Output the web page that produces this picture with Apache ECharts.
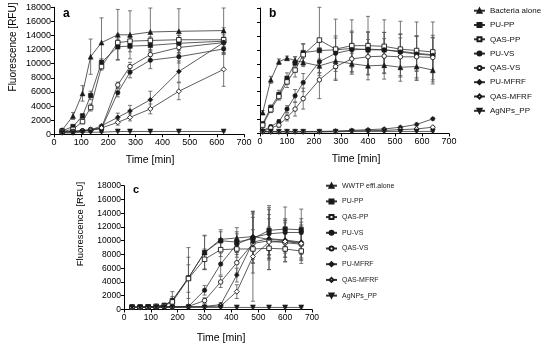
<!DOCTYPE html>
<html>
<head>
<meta charset="utf-8">
<script src="https://cdn.jsdelivr.net/npm/echarts@6/dist/echarts.min.js"></script>
<style>
  html, body { margin: 0; padding: 0; background: #fff; }
  #chart { width: 554px; height: 348px; }
</style>
</head>
<body>
<div id="chart"></div>
<script>
// ---- series names ----
const namesAB = ['Bacteria alone', 'PU-PP', 'QAS-PP', 'PU-VS', 'QAS-VS', 'PU-MFRF', 'QAS-MFRF', 'AgNPs_PP'];
const namesC  = ['WWTP effl.alone', 'PU-PP', 'QAS-PP', 'PU-VS', 'QAS-VS', 'PU-MFRF', 'QAS-MFRF', 'AgNPs_PP'];

// ---- axis ticks ----
const timeTicks = [0, 100, 200, 300, 400, 500, 600, 700];
const rfuTicks = [0, 2000, 4000, 6000, 8000, 10000, 12000, 14000, 16000, 18000];

// ---- panel a: sampling times [min] ----
const timeA = [30, 70, 105, 135, 175, 235, 280, 355, 460, 625];
const aBacteria    = [600, 2600, 5800, 11000, 13000, 14100, 14100, 14500, 14600, 14700];
const aBacteriaSd  = [150, 500, 1100, 2500, 3500, 3600, 3400, 3400, 3200, 3200];
const aPUPP        = [500, 1100, 2600, 5500, 10200, 12400, 12500, 12600, 12900, 13200];
const aPUPPSd      = [100, 200, 300, 600, 500, 1800, 800, 700, 700, 1900];
const aQASPP       = [400, 700, 1800, 3800, 9600, 13000, 13200, 13300, 13400, 13400];
const aQASPPSd     = [100, 200, 300, 500, 500, 500, 500, 500, 600, 700];
const aPUVS        = [300, 400, 500, 600, 800, 5900, 8800, 10500, 11000, 12100];
const aPUVSSd      = [100, 100, 100, 100, 200, 600, 800, 1200, 900, 700];
const aQASVS       = [300, 400, 500, 700, 900, 7000, 9600, 11300, 12300, 13000];
const aQASVSSd     = [100, 100, 100, 100, 200, 400, 600, 700, 700, 800];
const aPUMFRF      = [300, 400, 500, 600, 1200, 2400, 3300, 4900, 8900, 13000];
const aPUMFRFSd    = [100, 100, 100, 100, 200, 600, 800, 1200, 1500, 600];
const aQASMFRF     = [300, 350, 450, 550, 900, 1700, 2400, 3600, 6100, 9200];
const aQASMFRFSd   = [100, 100, 100, 100, 200, 400, 500, 700, 1200, 2400];
const aAgNPs       = [200, 200, 300, 300, 300, 400, 400, 400, 400, 400];
const aAgNPsSd     = [50, 50, 50, 50, 50, 50, 50, 50, 50, 50];

// ---- panel b ----
const timeB = [10, 40, 70, 100, 130, 160, 220, 280, 340, 400, 460, 520, 580, 640];
const bBacteria    = [3000, 7700, 10300, 10800, 10500, 10200, 9700, 10400, 10000, 9700, 9800, 9500, 9600, 9100];
const bBacteriaSd  = [300, 500, 400, 300, 500, 600, 1000, 1500, 1500, 2000, 2000, 2000, 2000, 2000];
const bPUPP        = [1400, 3700, 5600, 7900, 10100, 11600, 11900, 12000, 12200, 12000, 12000, 11800, 11500, 11300];
const bPUPPSd      = [200, 400, 600, 800, 900, 1300, 1600, 2000, 2500, 2500, 2500, 2500, 2500, 2500];
const bQASPP       = [1200, 3400, 5300, 7400, 9100, 11300, 13400, 12100, 12600, 12600, 12500, 12100, 11900, 11700];
const bQASPPSd     = [200, 400, 500, 800, 1000, 1500, 4700, 4300, 3700, 4200, 3800, 4000, 4100, 4300];
const bPUVS        = [400, 1000, 1700, 3500, 5400, 7300, 10300, 11500, 12000, 12100, 12000, 11700, 11400, 11200];
const bPUVSSd      = [100, 200, 300, 500, 900, 1300, 2000, 2200, 2500, 2500, 2500, 2500, 2500, 2500];
const bQASVS       = [300, 800, 1200, 2300, 3500, 5000, 7700, 9600, 10700, 11000, 11100, 11000, 11000, 10900];
const bQASVSSd     = [100, 200, 300, 500, 1000, 1500, 2700, 2000, 2000, 2500, 2500, 2700, 3000, 3200];
const bPUMFRF      = [300, 300, 300, 300, 300, 300, 300, 350, 450, 550, 650, 900, 1300, 2100];
const bPUMFRFSd    = [50, 50, 50, 50, 50, 50, 50, 50, 100, 100, 150, 150, 200, 200];
const bQASMFRF     = [250, 250, 250, 250, 250, 250, 250, 300, 350, 400, 450, 550, 650, 900];
const bQASMFRFSd   = [50, 50, 50, 50, 50, 50, 50, 50, 50, 100, 100, 100, 150, 150];
const bAgNPs       = [250, 250, 250, 250, 250, 250, 250, 250, 300, 300, 300, 300, 300, 300];
const bAgNPsSd     = [50, 50, 50, 50, 50, 50, 50, 50, 50, 50, 50, 50, 50, 50];

// ---- panel c ----
const timeC = [30, 60, 90, 120, 150, 180, 240, 300, 360, 420, 480, 540, 600, 660];
const cWWTP        = [350, 350, 400, 450, 600, 1300, 4600, 8300, 10200, 10400, 10600, 10200, 10000, 9700];
const cWWTPSd      = [100, 100, 100, 150, 200, 600, 3000, 2400, 1400, 1500, 2800, 3000, 3000, 3000];
const cPUPP        = [350, 350, 400, 450, 600, 1300, 4600, 8300, 10000, 9800, 10300, 11500, 11700, 11600];
const cPUPPSd      = [100, 100, 100, 150, 300, 1300, 4400, 2500, 1300, 1500, 3600, 3600, 3200, 3000];
const cQASPP       = [350, 350, 400, 450, 550, 1100, 4500, 7300, 8700, 8800, 8800, 8900, 8800, 8500];
const cQASPPSd     = [100, 100, 100, 100, 200, 500, 2000, 1500, 1000, 1200, 1500, 1500, 1200, 1000];
const cPUVS        = [300, 300, 350, 350, 400, 400, 450, 2800, 6600, 9500, 10500, 11000, 11200, 11200];
const cPUVSSd      = [50, 50, 50, 50, 100, 100, 150, 700, 1600, 1500, 3700, 3500, 2000, 2000];
const cQASVS       = [300, 300, 350, 350, 400, 400, 450, 1300, 4000, 6800, 9600, 10000, 9700, 9500];
const cQASVSSd     = [50, 50, 50, 50, 100, 100, 150, 400, 800, 1500, 2000, 2000, 1500, 1500];
const cPUMFRF      = [300, 300, 300, 350, 350, 350, 400, 450, 700, 5000, 9800, 10300, 10100, 9800];
const cPUMFRFSd    = [50, 50, 50, 50, 50, 100, 100, 100, 300, 1000, 4500, 4500, 2500, 2500];
const cQASMFRF     = [300, 300, 300, 350, 350, 350, 400, 400, 500, 2600, 7700, 9800, 9900, 9600];
const cQASMFRFSd   = [50, 50, 50, 50, 50, 100, 100, 100, 200, 1000, 6500, 4000, 3000, 2500];
const cAgNPs       = [300, 300, 300, 300, 300, 300, 300, 300, 300, 300, 300, 300, 300, 300];
const cAgNPsSd     = [50, 50, 50, 50, 50, 50, 50, 50, 50, 50, 50, 50, 50, 50];

const panelA = [[aBacteria, aBacteriaSd], [aPUPP, aPUPPSd], [aQASPP, aQASPPSd], [aPUVS, aPUVSSd],
                [aQASVS, aQASVSSd], [aPUMFRF, aPUMFRFSd], [aQASMFRF, aQASMFRFSd], [aAgNPs, aAgNPsSd]];
const panelB = [[bBacteria, bBacteriaSd], [bPUPP, bPUPPSd], [bQASPP, bQASPPSd], [bPUVS, bPUVSSd],
                [bQASVS, bQASVSSd], [bPUMFRF, bPUMFRFSd], [bQASMFRF, bQASMFRFSd], [bAgNPs, bAgNPsSd]];
const panelC = [[cWWTP, cWWTPSd], [cPUPP, cPUPPSd], [cQASPP, cQASPPSd], [cPUVS, cPUVSSd],
                [cQASVS, cQASVSSd], [cPUMFRF, cPUMFRFSd], [cQASMFRF, cQASMFRFSd], [cAgNPs, cAgNPsSd]];

// ---- marker styles (filled / open) ----
const markerStyles = [
  { symbol: 'triangle', open: false, size: 5,   rotate: 0 },
  { symbol: 'rect',     open: false, size: 4.5, rotate: 0 },
  { symbol: 'rect',     open: true,  size: 4.5, rotate: 0 },
  { symbol: 'circle',   open: false, size: 4.5, rotate: 0 },
  { symbol: 'circle',   open: true,  size: 4.5, rotate: 0 },
  { symbol: 'diamond',  open: false, size: 5,   rotate: 0 },
  { symbol: 'diamond',  open: true,  size: 5,   rotate: 0 },
  { symbol: 'triangle', open: false, size: 5,   rotate: 180 }
];

const FONT = 'Liberation Sans, Arial, sans-serif';
const INK = '#1a1a1a';

function errorBarRender(params, api) {
  const x = api.value(0), lo = api.value(1), hi = api.value(2);
  const p1 = api.coord([x, hi]);
  const p2 = api.coord([x, lo]);
  const w = 2;
  const st = { stroke: '#555', lineWidth: 0.8 };
  return {
    type: 'group',
    children: [
      { type: 'line', shape: { x1: p1[0], y1: p1[1], x2: p2[0], y2: p2[1] }, style: st },
      { type: 'line', shape: { x1: p1[0] - w, y1: p1[1], x2: p1[0] + w, y2: p1[1] }, style: st },
      { type: 'line', shape: { x1: p2[0] - w, y1: p2[1], x2: p2[0] + w, y2: p2[1] }, style: st }
    ]
  };
}

const series = [];
function addPanel(times, panel, names, axisIdx) {
  panel.forEach(([vals, sds]) => {
    series.push({
      type: 'custom',
      xAxisIndex: axisIdx, yAxisIndex: axisIdx,
      renderItem: errorBarRender,
      z: 1, silent: true,
      data: times.map((t, k) => [t, Math.max(0, vals[k] - sds[k]), vals[k] + sds[k]])
    });
  });
  panel.forEach(([vals], i) => {
    const m = markerStyles[i];
    series.push({
      type: 'line',
      name: names[i],
      xAxisIndex: axisIdx, yAxisIndex: axisIdx,
      z: 3,
      symbol: m.symbol,
      symbolSize: m.size,
      symbolRotate: m.rotate,
      showAllSymbol: true,
      animation: false,
      lineStyle: { color: '#333', width: 0.8 },
      itemStyle: m.open
        ? { color: '#fff', borderColor: INK, borderWidth: 0.9 }
        : { color: INK, borderColor: INK, borderWidth: 0.5 },
      data: times.map((t, k) => [t, vals[k]])
    });
  });
}
addPanel(timeA, panelA, namesAB, 0);
addPanel(timeB, panelB, namesAB, 1);
addPanel(timeC, panelC, namesC, 2);

function xAxis(grid, fs) {
  return {
    type: 'value', gridIndex: grid, min: timeTicks[0], max: timeTicks[timeTicks.length - 1], interval: 100,
    splitLine: { show: false },
    axisLine: { show: true, onZero: false, lineStyle: { color: '#000', width: 1 } },
    axisTick: { show: true, length: 3, lineStyle: { color: '#000' } },
    axisLabel: { fontSize: fs, color: '#000', fontFamily: FONT, margin: 4, formatter: v => String(v) }
  };
}
function yAxis(grid, fs, labels) {
  return {
    type: 'value', gridIndex: grid, min: rfuTicks[0], max: rfuTicks[rfuTicks.length - 1], interval: 2000,
    splitLine: { show: false },
    axisLine: { show: true, lineStyle: { color: '#000', width: 1 } },
    axisTick: { show: true, length: 3, lineStyle: { color: '#000' } },
    axisLabel: { show: labels, fontSize: fs, color: '#000', fontFamily: FONT, margin: 3, formatter: v => String(v) }
  };
}

const chart = echarts.init(document.getElementById('chart'), null, { renderer: 'canvas' });
chart.setOption({
  animation: false,
  backgroundColor: '#fff',
  grid: [
    { left: 54, top: 7.3, width: 190, height: 127 },
    { left: 260, top: 8, width: 189, height: 125.5 },
    { left: 124, top: 185.7, width: 188, height: 123.8 }
  ],
  xAxis: [xAxis(0, 9), xAxis(1, 9), xAxis(2, 8.5)],
  yAxis: [yAxis(0, 9, true), yAxis(1, 9, false), yAxis(2, 8.5, true)],
  legend: [
    {
      data: namesAB, orient: 'vertical', left: 473, top: 6.7, padding: 0,
      itemWidth: 11, itemHeight: 5, itemGap: 6.3,
      textStyle: { fontSize: 8, fontFamily: FONT, color: '#111', lineHeight: 8 },
      selectedMode: false
    },
    {
      data: namesC, orient: 'vertical', left: 325, top: 181.7, padding: 0,
      itemWidth: 11, itemHeight: 5, itemGap: 7.7,
      textStyle: { fontSize: 7, fontFamily: FONT, color: '#222', lineHeight: 8 },
      selectedMode: false
    }
  ],
  graphic: [
    { type: 'text', left: 63, top: 8, style: { text: 'a', font: 'bold 12px ' + FONT, fill: '#000' } },
    { type: 'text', left: 269, top: 8, style: { text: 'b', font: 'bold 12px ' + FONT, fill: '#000' } },
    { type: 'text', left: 133, top: 184, style: { text: 'c', font: 'bold 11px ' + FONT, fill: '#000' } },
    { type: 'text', x: 13, y: 47, rotation: Math.PI / 2,
      style: { text: 'Fluorescence [RFU]', font: '10px ' + FONT, fill: '#000', align: 'center', verticalAlign: 'middle' } },
    { type: 'text', x: 150, y: 160,
      style: { text: 'Time [min]', font: '10.5px ' + FONT, fill: '#000', align: 'center', verticalAlign: 'middle' } },
    { type: 'text', x: 356, y: 159,
      style: { text: 'Time [min]', font: '10.5px ' + FONT, fill: '#000', align: 'center', verticalAlign: 'middle' } },
    { type: 'text', x: 80, y: 224, rotation: Math.PI / 2,
      style: { text: 'Fluorescence [RFU]', font: '9.5px ' + FONT, fill: '#000', align: 'center', verticalAlign: 'middle' } },
    { type: 'text', x: 221, y: 338,
      style: { text: 'Time [min]', font: '10.5px ' + FONT, fill: '#000', align: 'center', verticalAlign: 'middle' } }
  ],
  series: series
});
</script>
</body>
</html>
